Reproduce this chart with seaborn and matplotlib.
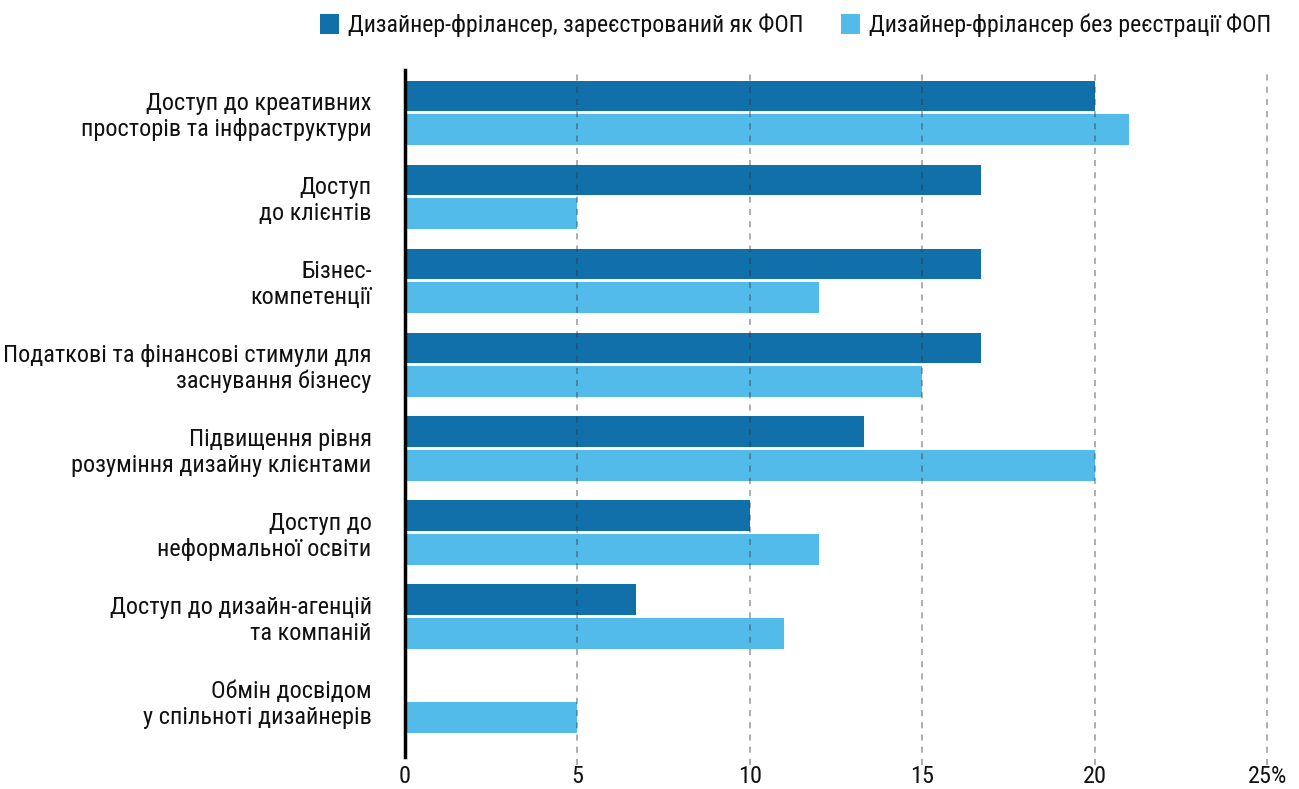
import matplotlib
matplotlib.use("Agg")
import matplotlib.pyplot as plt
import seaborn as sns
import pandas as pd
from matplotlib.patches import Patch

categories = [
    "Доступ до креативних\nпросторів та інфраструктури",
    "Доступ\nдо клієнтів",
    "Бізнес-\nкомпетенції",
    "Податкові та фінансові стимули для\nзаснування бізнесу",
    "Підвищення рівня\nрозуміння дизайну клієнтами",
    "Доступ до\nнеформальної освіти",
    "Доступ до дизайн-агенцій\nта компаній",
    "Обмін досвідом\nу спільноті дизайнерів",
]
series_names = ["Дизайнер-фрілансер, зареєстрований як ФОП",
                "Дизайнер-фрілансер без реєстрації ФОП"]
registered = [20, 16.7, 16.7, 16.7, 13.3, 10, 6.7, 0]
unregistered = [21, 5, 12, 15, 20, 12, 11, 5]
xticks = [0, 5, 10, 15, 20, 25]
xticklabels = ["0", "5", "10", "15", "20", "25%"]
colors = ["#1170AA", "#53BBEA"]

sns.set_theme(style="white")
plt.rcParams['font.family'] = ['Roboto Condensed', 'DejaVu Sans']

df = pd.DataFrame({
    "category": categories * 2,
    "value": registered + unregistered,
    "series": [series_names[0]] * len(categories) + [series_names[1]] * len(categories),
})

fig = plt.figure(figsize=(12.99, 7.89), dpi=100)
ax = fig.add_axes([0.3118, 0.0406, 0.6651, 0.8707])
sns.barplot(data=df, y="category", x="value", hue="series", order=categories,
            hue_order=series_names, palette=colors, orient="h", width=0.8,
            gap=0.08, saturation=1, ax=ax, legend=False, zorder=2, linewidth=0)

ax.set_xlim(0, 25.05)
ax.set_ylim(7.67, -0.51)
ax.set_xticks(xticks)
ax.set_xticklabels(xticklabels, fontsize=17.5, color="#111111")
ax.tick_params(axis="x", length=0, pad=6)
ax.tick_params(axis="y", length=0, pad=24, labelsize=17.5, labelcolor="#111111")
for lbl in ax.get_yticklabels():
    lbl.set_horizontalalignment("right")
    lbl.set_linespacing(1.15)
ax.set_xlabel("")
ax.set_ylabel("")
for s in ["top", "right", "bottom"]:
    ax.spines[s].set_visible(False)
ax.spines["left"].set_color("black")
ax.spines["left"].set_linewidth(2.5)
ax.spines["left"].set_zorder(5)

for x in xticks[1:]:
    ax.axvline(x, ymin=-0.012, ymax=0.995, clip_on=False, color="#333333", alpha=0.5,
               linewidth=1.1, linestyle=(0, (4, 4)), zorder=4)

handles = [Patch(facecolor=c, edgecolor="none") for c in colors]
fig.legend(handles, series_names, loc="upper right", bbox_to_anchor=(0.995, 1.01),
           ncol=2, frameon=False, fontsize=17.2, handlelength=0.8, handleheight=0.9,
           handletextpad=0.35, columnspacing=1.6, labelcolor="#111111")

fig.savefig("out.png", dpi=100)
